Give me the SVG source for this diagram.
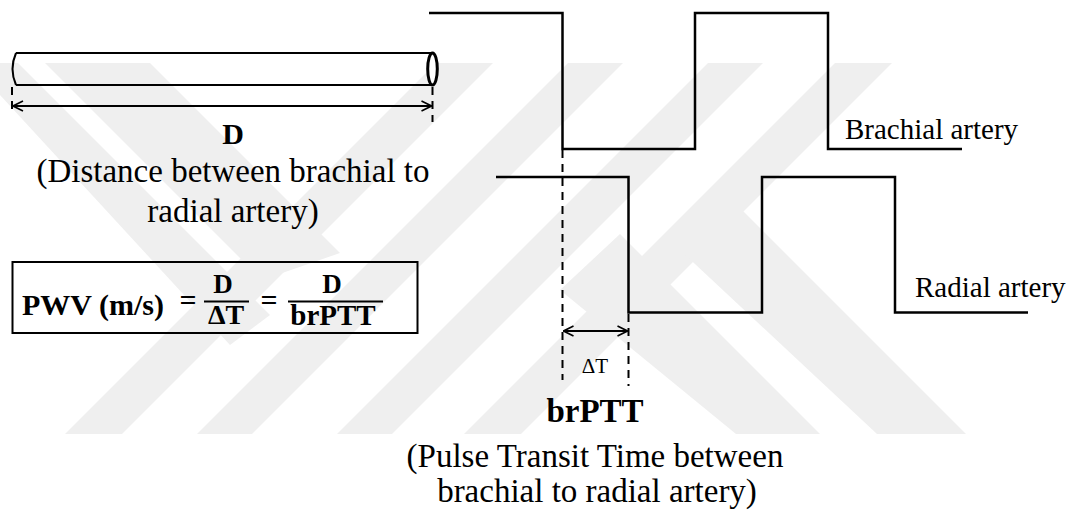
<svg xmlns="http://www.w3.org/2000/svg" width="1074" height="512" viewBox="0 0 1074 512">
<defs>
<style>
.wm{fill:#efefef;stroke:none}
.wave{fill:none;stroke:#000;stroke-width:2.5;stroke-linejoin:miter}
.dash{fill:none;stroke:#000;stroke-width:2;stroke-dasharray:8 6}
.dim{fill:none;stroke:#000;stroke-width:2}
.t{font-family:"Liberation Serif","Times New Roman",serif;fill:#000}
.b{font-weight:bold}
</style>
<marker id="ah" viewBox="0 0 12 12" refX="11" refY="6" markerWidth="12" markerHeight="12" markerUnits="userSpaceOnUse" orient="auto-start-reverse">
<path d="M1 1 L11 6 L1 11" fill="none" stroke="#000" stroke-width="1.6"/>
</marker>
</defs>
<rect width="1074" height="512" fill="#fff"/>
<g id="watermark">
<polygon class="wm" points="65,434 122,434 493,63 436,63"/>
<polygon class="wm" points="197,434 252,434 623,63 568,63"/>
<polygon class="wm" points="337,434 392,434 763,63 708,63"/>
<polygon class="wm" points="464,434 521,434 892,63 835,63"/>
<polygon class="wm" points="45,63 150,63 340,253 262,280"/>
<polygon class="wm" points="0,95 0,63 18,63 270,315 230,345"/>
<polygon class="wm" points="736,434 820,434 620,234 560,290"/>
<polygon class="wm" points="877,434 966,434 740,208 680,250"/>
</g>
<g id="tube">
<path d="M16 53 H432" class="dim" stroke-width="3"/>
<path d="M16 85 H432" class="dim" stroke-width="3"/>
<path d="M16 53 Q9 69 16 85" class="dim" stroke-width="3"/>
<ellipse cx="432.5" cy="69" rx="4.8" ry="16" fill="#fff" stroke="#000" stroke-width="3"/>
</g>
<g id="connectors">
<line x1="12" y1="87" x2="12" y2="114" class="dash" stroke-dasharray="6 5"/>
<line x1="432.5" y1="87" x2="432.5" y2="122" class="dash" stroke-dasharray="6 5"/>
<line x1="13" y1="106" x2="431.5" y2="106" class="dim" marker-start="url(#ah)" marker-end="url(#ah)"/>
<line x1="562.5" y1="150" x2="562.5" y2="380" class="dash"/>
<line x1="628.5" y1="314" x2="628.5" y2="386" class="dash"/>
<line x1="563.5" y1="331" x2="627.5" y2="331" class="dim" marker-start="url(#ah)" marker-end="url(#ah)"/>
</g>
<g id="brachial-wave">
<path class="wave" d="M429 13 H562.5 V149 H695 V13 H828 V149 H962"/>
<text class="t" x="845" y="139" font-size="29">Brachial artery</text>
</g>
<g id="radial-wave">
<path class="wave" d="M496 177 H628.5 V312.5 H762 V177 H895 V312.5 H1028"/>
<text class="t" x="915" y="297" font-size="29">Radial artery</text>
</g>
<g id="distance-label">
<text class="t b" x="233" y="144" font-size="30" text-anchor="middle">D</text>
<text class="t" x="233" y="182" font-size="33" text-anchor="middle">(Distance between brachial to</text>
<text class="t" x="233" y="222" font-size="33" text-anchor="middle">radial artery)</text>
</g>
<g id="formula">
<rect x="12.5" y="262" width="405" height="71" fill="none" stroke="#000" stroke-width="2"/>
<text class="t b" x="22" y="315" font-size="30">PWV (m/s)</text>
<text class="t b" x="188" y="310" font-size="30" text-anchor="middle">=</text>
<text class="t b" x="223" y="293" font-size="27" text-anchor="middle">D</text>
<line x1="204" y1="301.5" x2="249" y2="301.5" stroke="#000" stroke-width="2"/>
<text class="t b" x="226" y="324" font-size="28" text-anchor="middle">ΔT</text>
<text class="t b" x="269" y="310" font-size="30" text-anchor="middle">=</text>
<text class="t b" x="332" y="293" font-size="27" text-anchor="middle">D</text>
<line x1="288" y1="301.5" x2="383" y2="301.5" stroke="#000" stroke-width="2"/>
<text class="t b" x="333" y="324.5" font-size="29" text-anchor="middle">brPTT</text>
</g>
<g id="ptt-label">
<text class="t" x="595" y="373" font-size="21" text-anchor="middle">ΔT</text>
<text class="t b" x="595" y="422" font-size="33" text-anchor="middle">brPTT</text>
<text class="t" x="595" y="467" font-size="33" text-anchor="middle">(Pulse Transit Time between</text>
<text class="t" x="597" y="502" font-size="33" text-anchor="middle">brachial to radial artery)</text>
</g>
</svg>
